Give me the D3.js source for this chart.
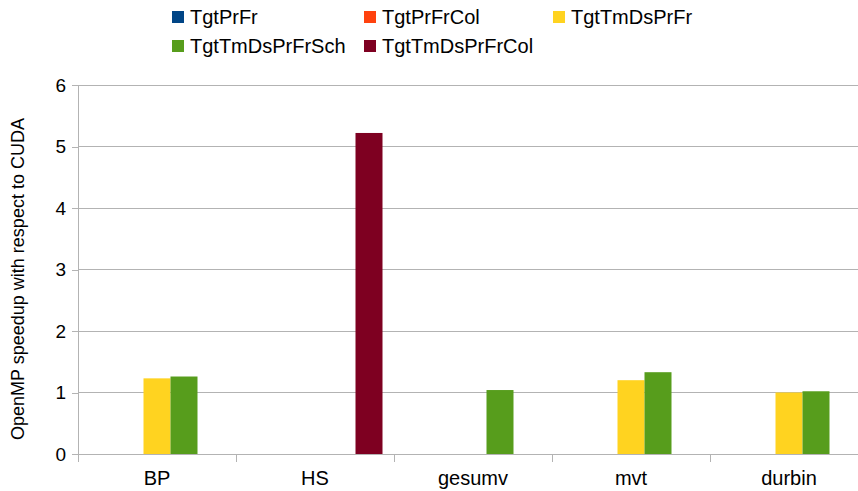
<!DOCTYPE html>
<html><head><meta charset="utf-8">
<script src="https://cdn.jsdelivr.net/npm/d3@7"></script>
<style>body{margin:0;background:#fff}svg{display:block;font-family:"Liberation Sans",Arial,sans-serif}</style>
</head><body>
<svg id="c" width="858" height="491"></svg>
<script>
const categories = ["BP", "HS", "gesumv", "mvt", "durbin"];
const seriesNames = ["TgtPrFr", "TgtPrFrCol", "TgtTmDsPrFr", "TgtTmDsPrFrSch", "TgtTmDsPrFrCol"];
const seriesColors = ["#004586", "#ff420e", "#ffd320", "#579d1c", "#7e0021"];
const TgtPrFr =        [0, 0, 0, 0, 0];
const TgtPrFrCol =     [0, 0, 0, 0, 0];
const TgtTmDsPrFr =    [1.23, 0, 0, 1.20, 1.00];
const TgtTmDsPrFrSch = [1.26, 0, 1.04, 1.33, 1.02];
const TgtTmDsPrFrCol = [0, 5.22, 0, 0, 0];
const yTicks = [0, 1, 2, 3, 4, 5, 6];
const seriesValues = [TgtPrFr, TgtPrFrCol, TgtTmDsPrFr, TgtTmDsPrFrSch, TgtTmDsPrFrCol];

const svg = d3.select("#c");
const m = {left: 78, right: 868, top: 85, bottom: 454};
const x = d3.scaleBand().domain(categories).range([m.left, m.right]);
const xs = d3.scaleBand().domain(seriesNames).range([0, x.bandwidth()]).paddingOuter(0.426);
const y = d3.scaleLinear().domain([0, 6]).range([m.bottom, m.top]);

// gridlines
svg.append("g").selectAll("line").data(yTicks).join("line")
  .attr("x1", m.left).attr("x2", m.right)
  .attr("y1", d => y(d)).attr("y2", d => y(d))
  .attr("stroke", "#b3b3b3").attr("stroke-width", 1).attr("shape-rendering", "crispEdges");

// y axis
const ya = svg.append("g").attr("transform", `translate(${m.left},0)`)
  .call(d3.axisLeft(y).tickValues(yTicks).tickSize(6).tickPadding(6).tickFormat(d3.format("d")));
ya.select(".domain").attr("stroke", "#b3b3b3").attr("d", `M0,${m.top}V${m.bottom + 6}`);
ya.selectAll(".tick line").attr("stroke", "#b3b3b3");
ya.selectAll("text").attr("font-size", 19).attr("fill", "#000").attr("font-family", "Liberation Sans, Arial, sans-serif");
ya.attr("shape-rendering", "crispEdges");

// x axis
const xa = svg.append("g").attr("transform", `translate(0,${m.bottom})`)
  .call(d3.axisBottom(x).tickSize(0).tickPadding(17));
xa.select(".domain").remove();
xa.selectAll("text").attr("font-size", 20).attr("fill", "#000").attr("font-family", "Liberation Sans, Arial, sans-serif");
// category separator ticks
svg.append("g").selectAll("line").data(categories).join("line")
  .attr("x1", d => x(d)).attr("x2", d => x(d))
  .attr("y1", m.bottom).attr("y2", m.bottom + 8)
  .attr("stroke", "#b3b3b3").attr("shape-rendering", "crispEdges");

// bars
seriesNames.forEach((s, si) => {
  svg.append("g").attr("fill", seriesColors[si]).selectAll("rect")
    .data(categories.map((c, ci) => ({c, v: seriesValues[si][ci]})).filter(d => d.v > 0))
    .join("rect")
    .attr("x", d => x(d.c) + xs(s))
    .attr("width", xs.bandwidth())
    .attr("y", d => y(d.v))
    .attr("height", d => y(0) - y(d.v));
});

// y title
svg.append("text").attr("transform", "translate(24,279) rotate(-90)")
  .attr("text-anchor", "middle").attr("font-size", 18).attr("fill", "#000")
  .text("OpenMP speedup with respect to CUDA");

// legend
const legPos = [[172, 17], [364, 17], [553, 17], [172, 46], [364, 46]];
const lg = svg.append("g").selectAll("g").data(seriesNames).join("g")
  .attr("transform", (d, i) => `translate(${legPos[i][0]},${legPos[i][1]})`);
lg.append("rect").attr("x", 0).attr("y", -6).attr("width", 12).attr("height", 12)
  .attr("fill", (d, i) => seriesColors[i]);
lg.append("text").attr("x", 18).attr("y", 0).attr("dy", "0.35em")
  .attr("font-size", 20).attr("fill", "#000").text(d => d);
</script>
</body></html>
